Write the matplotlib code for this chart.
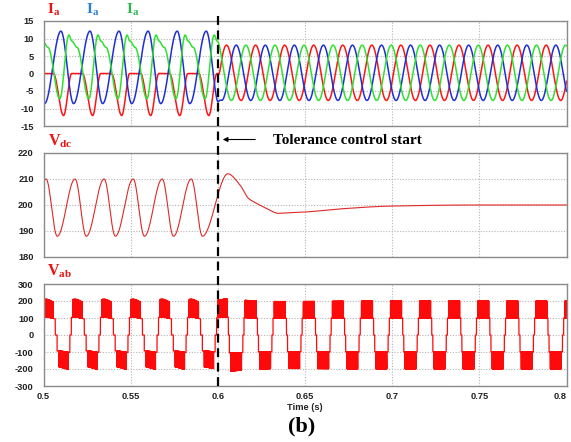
import numpy as np
import matplotlib
matplotlib.use("Agg")
import matplotlib.pyplot as plt
from matplotlib.lines import Line2D
from matplotlib.transforms import blended_transform_factory

# ---------------- data ----------------
f_grid = 60.0                      # Hz
t_start, t_end, t_event = 0.5, 0.8, 0.6

# pre-event phase currents: one-cycle knots (cycle fraction, A), cycle origin 0.5 s
ia_pre_frac = [0.337, 0.69, 0.97]
ia_pre_val = [0.0, -12.0, 0.0]
ib_pre_frac = [0.035, 0.60]
ib_pre_val = [-8.6, 12.1]
ic_pre_frac = [0.15, 0.56, 0.876, 0.97]
ic_pre_val = [7.5, -7.2, 11.0, 9.3]

# post-event balanced currents
i_post_amp = 7.9
i_post_offset = 0.2
ia_post_peak_time = 0.605

# DC-link voltage
vdc_pre_frac = [0.086, 0.474]
vdc_pre_val = [210.0, 188.0]
vdc_tr_time = [0.5912, 0.6057, 0.6127, 0.6175, 0.6223, 0.628, 0.6347, 0.640,
               0.650, 0.670, 0.700, 0.750, 0.800]
vdc_tr_val = [188.0, 212.0, 207.7, 202.6, 200.6, 198.7, 196.8, 197.0,
              197.3, 198.5, 199.6, 200.0, 200.0]

# line voltage Vab: level sequence per cycle (cycle fraction where level starts)
# level +/-2 means PWM between +/-Vdc/2 and +/-Vdc
vab_pre_origin = 0.5168
vab_pre_frac = [0.0, 0.33, 0.395, 0.46, 0.525, 0.845, 0.897, 0.948]
vab_pre_level = [2, 1, 0, -1, -2, -1, 0, 1]
vab_post_origin = 0.6157
vab_post_frac = [0.0, 0.38, 0.418, 0.456, 0.495, 0.875, 0.917, 0.958]
vab_post_level = [2, 1, 0, -1, -2, -1, 0, 1]
pwm_freq = 6000.0

x_ticks = [0.5, 0.55, 0.6, 0.65, 0.7, 0.75, 0.8]
x_ticklabels = ["0.5", "0.55", "0.6", "0.65", "0.7", "0.75", "0.8"]
i_ticks = [15, 10, 5, 0, -5, -10, -15]
vdc_ticks = [220, 210, 200, 190, 180]
vab_ticks = [300, 200, 100, 0, -100, -200, -300]

# ---------------- helpers ----------------
T = 1.0 / f_grid


def periodic_curve(t, origin, frac, val):
    frac = np.asarray(frac, float)
    val = np.asarray(val, float)
    fk = np.r_[frac, frac[0] + 1.0]
    vk = np.r_[val, val[0]]
    f = ((t - origin) / T) % 1.0
    f = np.where(f < fk[0], f + 1.0, f)
    idx = np.clip(np.searchsorted(fk, f, side="right") - 1, 0, len(fk) - 2)
    s = (f - fk[idx]) / (fk[idx + 1] - fk[idx])
    w = (1 - np.cos(np.pi * s)) / 2
    return vk[idx] + (vk[idx + 1] - vk[idx]) * w


def pchip(xk, yk, x):
    xk = np.asarray(xk, float)
    yk = np.asarray(yk, float)
    h = np.diff(xk)
    d = np.diff(yk) / h
    m = np.zeros_like(yk)
    for i in range(1, len(xk) - 1):
        if d[i - 1] * d[i] > 0:
            w1 = 2 * h[i] + h[i - 1]
            w2 = h[i] + 2 * h[i - 1]
            m[i] = (w1 + w2) / (w1 / d[i - 1] + w2 / d[i])
    idx = np.clip(np.searchsorted(xk, x, side="right") - 1, 0, len(xk) - 2)
    s = (x - xk[idx]) / h[idx]
    h00 = 2 * s**3 - 3 * s**2 + 1
    h10 = s**3 - 2 * s**2 + s
    h01 = -2 * s**3 + 3 * s**2
    h11 = s**3 - s**2
    return (h00 * yk[idx] + h10 * h[idx] * m[idx] + h01 * yk[idx + 1]
            + h11 * h[idx] * m[idx + 1])


def level_seq(t, origin, frac, level):
    frac = np.asarray(frac, float)
    level = np.asarray(level)
    f = ((t - origin) / T) % 1.0
    idx = np.searchsorted(frac, f, side="right") - 1
    return level[idx]


# ---------------- signals ----------------
t = np.linspace(t_start, t_end, 40001)
w = np.clip((t - 0.5995) / 0.003, 0, 1)
w = w * w * (3 - 2 * w)

ia_pre = periodic_curve(t, t_start, ia_pre_frac, ia_pre_val)
ib_pre = periodic_curve(t, t_start, ib_pre_frac, ib_pre_val)
ic_pre = periodic_curve(t, t_start, ic_pre_frac, ic_pre_val)
ph = 2 * np.pi * f_grid * (t - ia_post_peak_time)
ia_post = i_post_offset + i_post_amp * np.cos(ph)
ib_post = i_post_offset + i_post_amp * np.cos(ph - 2 * np.pi / 3)
ic_post = i_post_offset + i_post_amp * np.cos(ph + 2 * np.pi / 3)
ia = (1 - w) * ia_pre + w * ia_post
ib = (1 - w) * ib_pre + w * ib_post
ic = (1 - w) * ic_pre + w * ic_post


def vdc_of(tt):
    pre = periodic_curve(tt, t_start, vdc_pre_frac, vdc_pre_val)
    tr = pchip(vdc_tr_time, vdc_tr_val, np.clip(tt, vdc_tr_time[0], vdc_tr_time[-1]))
    return np.where(tt < vdc_tr_time[0], pre, tr)


vdc = vdc_of(t)

tv = np.linspace(t_start, t_end, 240001)
vdc_v = vdc_of(tv)
lev = np.where(tv < t_event,
               level_seq(tv, vab_pre_origin, vab_pre_frac, vab_pre_level),
               level_seq(tv, vab_post_origin, vab_post_frac, vab_post_level))
pwm_hi = ((tv * pwm_freq) % 1.0) < 0.5
mag = np.where(np.abs(lev) == 2, np.where(pwm_hi, 1.0, 0.5), 0.5 * np.abs(lev))
vab = np.sign(lev) * mag * vdc_v

# ---------------- figure ----------------
plt.rcParams["mathtext.fontset"] = "custom"
plt.rcParams["mathtext.bf"] = "Liberation Serif:bold"
plt.rcParams["mathtext.rm"] = "Liberation Serif"
plt.rcParams["axes.unicode_minus"] = False

W, H = 571, 442
fig = plt.figure(figsize=(W / 100, H / 100), dpi=100)
fig.patch.set_facecolor("white")

left = 43.5 / W
width = (566.5 - 43.5) / W


def make_ax(top_px, bot_px):
    return fig.add_axes([left, 1 - bot_px / H, width, (bot_px - top_px) / H])


ax1 = make_ax(21, 126)
ax2 = make_ax(153, 257)
ax3 = make_ax(284, 386)

tick_font = dict(family="Liberation Sans", weight="bold", size=6.7)
for ax in (ax1, ax2, ax3):
    ax.set_xlim(t_start, t_end)
    ax.set_xticks(x_ticks)
    ax.grid(True, linestyle=(0, (1, 1.5)), color="#b5b5b5", linewidth=0.8)
    ax.set_axisbelow(True)
    for sp in ax.spines.values():
        sp.set_color("#8a8a8a")
        sp.set_linewidth(1.0)
    ax.tick_params(length=0, pad=7, labelcolor="#222222")

ax1.plot(t, ia, color="#ff1414", lw=1.1)
ax1.plot(t, ib, color="#1f2fd6", lw=1.1)
ax1.plot(t, ic, color="#30e030", lw=1.1)
ax1.set_ylim(-15, 15)
ax1.set_yticks(i_ticks)

ax2.plot(t, vdc, color="#e02828", lw=0.8)
ax2.set_ylim(180, 220)
ax2.set_yticks(vdc_ticks)

ax3.plot(tv, vab, color="#ff0a0a", lw=0.9)
ax3.set_ylim(-300, 300)
ax3.set_yticks(vab_ticks)

for ax in (ax1, ax2):
    ax.set_xticklabels([])
ax3.set_xticklabels(x_ticklabels)
ax3.tick_params(axis="x", pad=4)
for ax in (ax1, ax2, ax3):
    for lab in ax.get_xticklabels() + ax.get_yticklabels():
        lab.set_fontfamily(tick_font["family"])
        lab.set_fontweight(tick_font["weight"])
        lab.set_fontsize(tick_font["size"])
ax3.get_xticklabels()[-1].set_horizontalalignment("right")
ax3.get_xticklabels()[-1].set_x(0.8 + 0.002)

# signal labels
lab_size = 11
base_i = 1 - 13.5 / H
fig.text(47 / W, base_i, r"$\mathbf{I_a}$", color="#ee1111", fontsize=lab_size, va="baseline")
fig.text(86 / W, base_i, r"$\mathbf{I_a}$", color="#2a7fd4", fontsize=lab_size, va="baseline")
fig.text(126 / W, base_i, r"$\mathbf{I_a}$", color="#2db84d", fontsize=lab_size, va="baseline")
fig.text(48 / W, 1 - 146 / H, r"$\mathbf{V_{dc}}$", color="#ee1111", fontsize=lab_size + 0.5, va="baseline")
fig.text(47 / W, 1 - 276 / H, r"$\mathbf{V_{ab}}$", color="#ee1111", fontsize=lab_size + 0.5, va="baseline")

# event marker
tr = blended_transform_factory(ax3.transData, fig.transFigure)
fig.add_artist(Line2D([t_event, t_event], [1 - 16 / H, 1 - 388 / H], transform=tr,
                      color="black", lw=1.6, linestyle=(0, (4, 2.5)), clip_on=False))
fig.add_artist(matplotlib.patches.FancyArrowPatch(
    (258 / W, 1 - 139.5 / H), (220 / W, 1 - 139.5 / H), transform=fig.transFigure,
    arrowstyle="-|>", mutation_scale=7, lw=0.8, color="black"))
fig.text(273 / W, 1 - 140 / H, "Tolerance control start", fontsize=11, fontweight="bold",
         family="Liberation Serif", va="center", ha="left", color="black")

fig.text(305 / W, 1 - 407.5 / H, "Time (s)", fontsize=6.7, fontweight="bold",
         family="Liberation Sans", ha="center", va="center", color="#222222")
fig.text(302 / W, 1 - 426 / H, "(b)", fontsize=16, fontweight="bold",
         family="Liberation Serif", ha="center", va="center", color="black")

fig.savefig("out.png", dpi=100, facecolor="white")
